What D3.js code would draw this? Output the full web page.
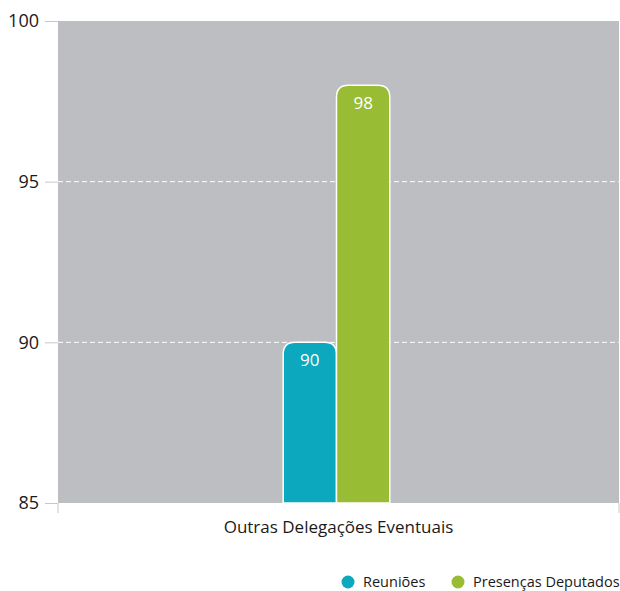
<!DOCTYPE html>
<html>
<head>
<meta charset="utf-8">
<script src="https://cdn.jsdelivr.net/npm/d3@7"></script>
<style>
  body { margin: 0; background: #fff; }
  text { font-family: "Open Sans", sans-serif; }
</style>
</head>
<body>
<div id="chart"></div>
<script>
// chart data
var categories = ["Outras Delegações Eventuais"];
var seriesNames = ["Reuniões", "Presenças Deputados"];
var seriesColors = ["#0ca8bd", "#98bd35"];
var reunioes = [90];
var presencas = [98];
var yTicks = [85, 90, 95, 100];

var width = 620, height = 591;
var margin = {top: 21, right: 1, bottom: 88, left: 58};
var innerW = width - margin.left - margin.right,
    innerH = height - margin.top - margin.bottom;

var svg = d3.select("#chart").append("svg")
    .attr("width", width)
    .attr("height", height);

var g = svg.append("g")
    .attr("transform", "translate(" + margin.left + "," + margin.top + ")");

var x = d3.scaleBand()
    .domain(categories)
    .range([0, innerW]);

var y = d3.scaleLinear()
    .domain([85, 100])
    .range([innerH, 0]);

// plot background
g.append("rect")
    .attr("x", 0).attr("y", 0)
    .attr("width", innerW).attr("height", innerH)
    .attr("fill", "#bdbec2");

// dashed grid lines
g.selectAll(".grid")
    .data(yTicks.filter(function(d) { return d > 85 && d < 100; }))
  .enter().append("line")
    .attr("x1", 0).attr("x2", innerW)
    .attr("y1", function(d) { return y(d); })
    .attr("y2", function(d) { return y(d); })
    .attr("stroke", "#ffffff")
    .attr("stroke-width", 1)
    .attr("stroke-dasharray", "5,3");

// y axis
var yAxis = g.append("g")
    .call(d3.axisLeft(y).tickValues(yTicks).tickSize(13).tickPadding(6));
yAxis.select(".domain").remove();
yAxis.selectAll("line").attr("stroke", "#c8c8c8");
yAxis.selectAll("text")
    .attr("fill", "#1a1a1a")
    .style("font-size", "18px");

// x axis
var xAxis = g.append("g")
    .attr("transform", "translate(0," + innerH + ")")
    .call(d3.axisBottom(x).tickSize(0).tickPadding(18));
xAxis.select(".domain").remove();
xAxis.selectAll("text")
    .attr("fill", "#1a1a1a")
    .style("font-size", "17px");
[0, innerW].forEach(function(px) {
  xAxis.append("line")
      .attr("x1", px).attr("x2", px)
      .attr("y1", 0).attr("y2", 10)
      .attr("stroke", "#c8c8c8");
});

// grouped bars
var groupW = x.bandwidth() * 0.19;
var x1 = d3.scaleBand()
    .domain(seriesNames)
    .range([0, groupW]);

var rows = categories.map(function(c, i) {
  return {cat: c, values: [reunioes[i], presencas[i]]};
});

function topRounded(x0, y0, w, h, r) {
  return "M" + x0 + "," + (y0 + h) +
    "V" + (y0 + r) +
    "Q" + x0 + "," + y0 + " " + (x0 + r) + "," + y0 +
    "H" + (x0 + w - r) +
    "Q" + (x0 + w) + "," + y0 + " " + (x0 + w) + "," + (y0 + r) +
    "V" + (y0 + h) + "Z";
}

var group = g.selectAll(".group")
    .data(rows)
  .enter().append("g")
    .attr("transform", function(d) {
      return "translate(" + (x(d.cat) + x.bandwidth() / 2 - groupW / 2 - 2) + ",0)";
    });

var bar = group.selectAll(".bar")
    .data(function(d) {
      return d.values.map(function(v, i) { return {name: seriesNames[i], value: v, i: i}; });
    })
  .enter().append("g");

bar.append("path")
    .attr("d", function(d) {
      var top = y(d.value);
      return topRounded(x1(d.name), top, x1.bandwidth(), innerH - top, 12);
    })
    .attr("fill", function(d) { return seriesColors[d.i]; })
    .attr("stroke", "#ffffff")
    .attr("stroke-width", 1.5);

bar.append("text")
    .attr("x", function(d) { return x1(d.name) + x1.bandwidth() / 2; })
    .attr("y", function(d) { return y(d.value) + 24; })
    .attr("text-anchor", "middle")
    .attr("fill", "#ffffff")
    .style("font-size", "17px")
    .text(function(d) { return d.value; });

// legend
var legendX = [348, 458];
var legend = svg.selectAll(".legend")
    .data(seriesNames)
  .enter().append("g")
    .attr("transform", function(d, i) { return "translate(" + legendX[i] + ",582)"; });

legend.append("circle")
    .attr("r", 6.5)
    .attr("fill", function(d, i) { return seriesColors[i]; });

legend.append("text")
    .attr("x", 15)
    .attr("dy", "0.35em")
    .attr("fill", "#1a1a1a")
    .style("font-size", "14.5px")
    .text(function(d) { return d; });
</script>
</body>
</html>
